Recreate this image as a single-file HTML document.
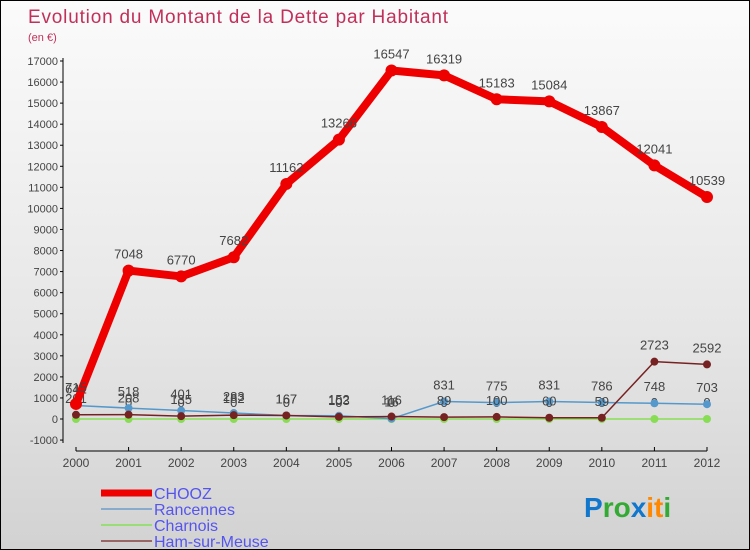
<!DOCTYPE html>
<html><head><meta charset="utf-8"><style>
body{margin:0;}
#wrap{width:750px;height:550px;position:relative;box-sizing:border-box;border:1px solid #000;background:linear-gradient(#fbfbfb,#e6e6e6 60%,#d2d2d2);overflow:hidden;font-family:"Liberation Sans",sans-serif;}
</style></head><body>
<div id="wrap">
<svg id="chart" width="750" height="550"></svg>
</div>
<script>
const years=["2000","2001","2002","2003","2004","2005","2006","2007","2008","2009","2010","2011","2012"];
const yTicks=[-1000,0,1000,2000,3000,4000,5000,6000,7000,8000,9000,10000,11000,12000,13000,14000,15000,16000,17000];
const chooz=[715,7048,6770,7682,11162,13266,16547,16319,15183,15084,13867,12041,10539];
const rancennes=[641,518,401,283,167,152,16,831,775,831,786,748,703];
const charnois=[0,0,0,0,0,0,0,0,0,0,0,0,0];
const ham=[201,208,135,182,167,103,116,89,100,60,59,2723,2592];
const NS="http://www.w3.org/2000/svg";
const svg=document.getElementById('chart');
const xS=i=>75+i*(706-75)/12;
const yS=v=>418-v*(358/17000);
function el(t,a,txt){const e=document.createElementNS(NS,t);for(const k in a)e.setAttribute(k,a[k]);if(txt!==undefined)e.textContent=txt;svg.appendChild(e);return e;}
let e;
e=el('text',{x:27,y:22,fill:'#c0305a','font-size':19,textLength:420,lengthAdjust:'spacing'},'Evolution du Montant de la Dette par Habitant');

e=el('text',{x:27,y:40,fill:'#c0305a','font-size':11},'(en €)');

e=el('line',{x1:62,y1:57,x2:62,y2:442,stroke:'#000'});

yTicks.forEach(v=>{
 const t=el('text',{x:57,y:yS(v)+4,'text-anchor':'end','font-size':11,fill:'#444'},String(v));
 
 const l=el('line',{x1:59,y1:yS(v),x2:62,y2:yS(v),stroke:'#000'});
 
});
e=el('line',{x1:75,y1:450,x2:706,y2:450,stroke:'#000'});

years.forEach((y,i)=>{
 const l=el('line',{x1:xS(i),y1:446,x2:xS(i),y2:450,stroke:'#000'});
 
 const t=el('text',{x:xS(i),y:466,'text-anchor':'middle','font-size':12,fill:'#444'},y);
 
});
function series(data,color,w,r,name,labels){
 const p=el('polyline',{points:data.map((v,i)=>xS(i)+','+yS(v)).join(' '),fill:'none',stroke:color,'stroke-width':w,'stroke-linejoin':'round'});
 
 data.forEach((v,i)=>{
  const c=el('circle',{cx:xS(i),cy:yS(v),r:r,fill:color});
  
  if(labels){const t=el('text',{x:xS(i),y:yS(v)-12,'text-anchor':'middle','font-size':13,fill:'#444'},String(v));
  }
 });
}
series(charnois,'#88dd55',1.5,4,'charnois',true);
series(rancennes,'#5599cc',1.5,4,'rancennes',true);
series(ham,'#772222',1.5,4,'ham-sur-meuse',true);
series(chooz,'#ee0000',8,6,'chooz',true);
const leg=[['CHOOZ','#ee0000',7],['Rancennes','#88aacc',2],['Charnois','#99dd77',2],['Ham-sur-Meuse','#996666',2]];
leg.forEach((d,i)=>{
 const y=492+i*16;
 const l=el('line',{x1:100,y1:y,x2:151,y2:y,stroke:d[1],'stroke-width':d[2]});
 
 const t=el('text',{x:153,y:y+6,'font-size':16,fill:'#5555ee'},d[0]);
 
});
const logo=el('text',{x:583,y:516,'font-size':28,'font-weight':'bold'},'');

[['P','#1177cc'],['ro','#33aa33'],['x','#1177cc'],['it','#ff8800'],['i','#33aa33']].forEach(s=>{const ts=document.createElementNS(NS,'tspan');ts.setAttribute('fill',s[1]);ts.textContent=s[0];logo.appendChild(ts);});
</script>
</body></html>
